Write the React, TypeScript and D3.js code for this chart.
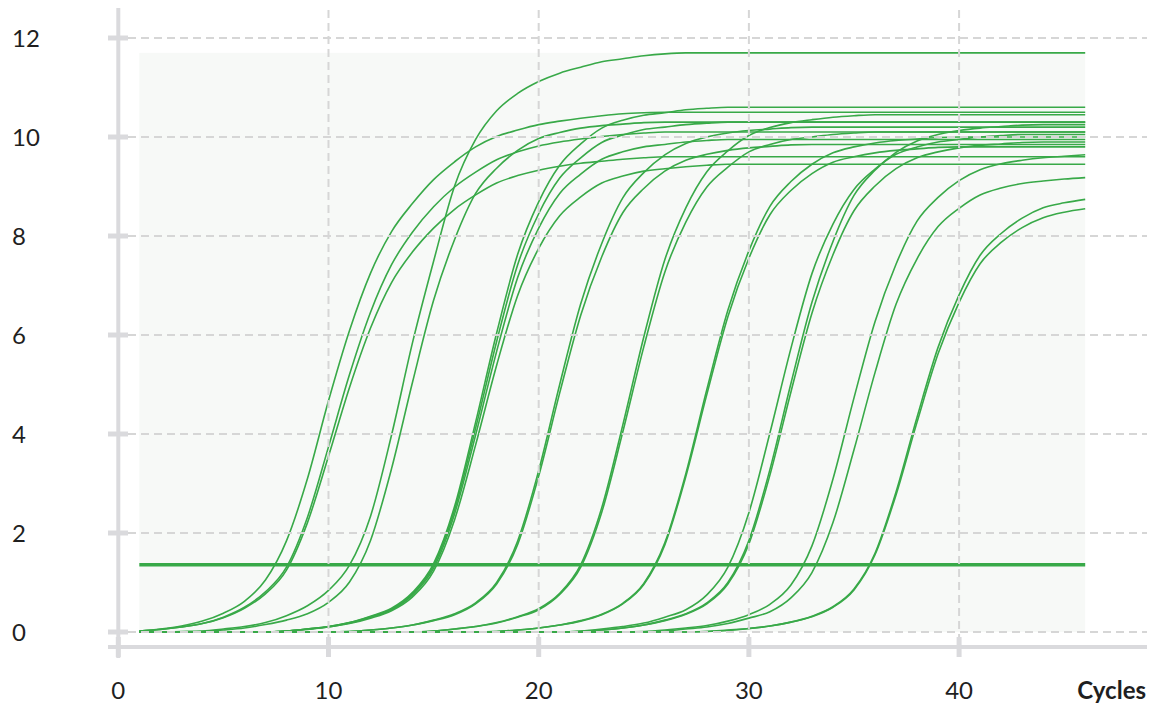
import * as d3 from "d3";

// cycle numbers (x values)
const cycles = [
  1, 2, 3, 4, 5, 6, 7, 8, 9, 10, 11, 12, 13, 14, 15, 16, 17, 18, 19, 20, 21, 22, 23,
  24, 25, 26, 27, 28, 29, 30, 31, 32, 33, 34, 35, 36, 37, 38, 39, 40, 41, 42, 43, 44, 45, 46,
];

const yTicks = [0, 2, 4, 6, 8, 10, 12];
const xTicks = [0, 10, 20, 30, 40];
const threshold = 1.36;

// fluorescence per cycle
const curveA1 = [0.02, 0.06, 0.12, 0.22, 0.38, 0.62, 1.05, 1.84, 3.1, 4.67, 6.09, 7.25, 8.09, 8.66, 9.14, 9.5, 9.8, 10.01, 10.14, 10.25, 10.32, 10.38, 10.43, 10.47, 10.49, 10.5, 10.5, 10.5, 10.5, 10.5, 10.5, 10.5, 10.5, 10.5, 10.5, 10.5, 10.5, 10.5, 10.5, 10.5, 10.5, 10.5, 10.5, 10.5, 10.5, 10.5];
const curveA2 = [0.02, 0.05, 0.1, 0.17, 0.3, 0.5, 0.81, 1.31, 2.32, 3.74, 5.2, 6.46, 7.42, 8.08, 8.59, 8.99, 9.29, 9.54, 9.7, 9.82, 9.9, 9.96, 10.01, 10.05, 10.08, 10.1, 10.1, 10.1, 10.1, 10.1, 10.1, 10.1, 10.1, 10.1, 10.1, 10.1, 10.1, 10.1, 10.1, 10.1, 10.1, 10.1, 10.1, 10.1, 10.1, 10.1];
const curveA3 = [0.02, 0.05, 0.1, 0.17, 0.29, 0.48, 0.77, 1.25, 2.21, 3.55, 4.94, 6.14, 7.06, 7.68, 8.16, 8.54, 8.83, 9.07, 9.22, 9.33, 9.41, 9.47, 9.51, 9.55, 9.58, 9.6, 9.6, 9.6, 9.6, 9.6, 9.6, 9.6, 9.6, 9.6, 9.6, 9.6, 9.6, 9.6, 9.6, 9.6, 9.6, 9.6, 9.6, 9.6, 9.6, 9.6];
const curveB1 = [0, 0, 0.01, 0.02, 0.06, 0.11, 0.19, 0.33, 0.53, 0.84, 1.35, 2.34, 3.98, 5.85, 7.49, 9.01, 9.95, 10.53, 10.88, 11.12, 11.29, 11.41, 11.52, 11.58, 11.64, 11.68, 11.7, 11.7, 11.7, 11.7, 11.7, 11.7, 11.7, 11.7, 11.7, 11.7, 11.7, 11.7, 11.7, 11.7, 11.7, 11.7, 11.7, 11.7, 11.7, 11.7];
const curveB2 = [0, 0, 0, 0.01, 0.04, 0.08, 0.15, 0.24, 0.37, 0.6, 1.01, 1.85, 3.3, 5.05, 6.7, 7.93, 8.86, 9.37, 9.73, 9.97, 10.09, 10.18, 10.23, 10.26, 10.29, 10.3, 10.3, 10.3, 10.3, 10.3, 10.3, 10.3, 10.3, 10.3, 10.3, 10.3, 10.3, 10.3, 10.3, 10.3, 10.3, 10.3, 10.3, 10.3, 10.3, 10.3];
const curveC1 = [0, 0, 0, 0, 0, 0, 0, 0.02, 0.06, 0.11, 0.19, 0.32, 0.48, 0.8, 1.38, 2.54, 4.24, 6.04, 7.63, 8.69, 9.43, 9.86, 10.18, 10.34, 10.44, 10.49, 10.55, 10.58, 10.6, 10.6, 10.6, 10.6, 10.6, 10.6, 10.6, 10.6, 10.6, 10.6, 10.6, 10.6, 10.6, 10.6, 10.6, 10.6, 10.6, 10.6];
const curveC2 = [0, 0, 0, 0, 0, 0, 0, 0.02, 0.06, 0.11, 0.19, 0.31, 0.46, 0.77, 1.34, 2.47, 4.12, 5.87, 7.42, 8.45, 9.17, 9.58, 9.89, 10.04, 10.15, 10.2, 10.25, 10.28, 10.3, 10.3, 10.3, 10.3, 10.3, 10.3, 10.3, 10.3, 10.3, 10.3, 10.3, 10.3, 10.3, 10.3, 10.3, 10.3, 10.3, 10.3];
const curveC3 = [0, 0, 0, 0, 0, 0, 0, 0.02, 0.06, 0.1, 0.18, 0.3, 0.45, 0.75, 1.29, 2.39, 3.98, 5.67, 7.16, 8.16, 8.86, 9.25, 9.55, 9.7, 9.8, 9.85, 9.9, 9.93, 9.95, 9.95, 9.95, 9.95, 9.95, 9.95, 9.95, 9.95, 9.95, 9.95, 9.95, 9.95, 9.95, 9.95, 9.95, 9.95, 9.95, 9.95];
const curveC4 = [0, 0, 0, 0, 0, 0, 0, 0.02, 0.05, 0.1, 0.17, 0.28, 0.43, 0.71, 1.23, 2.27, 3.78, 5.39, 6.8, 7.75, 8.41, 8.79, 9.07, 9.21, 9.31, 9.36, 9.4, 9.43, 9.45, 9.45, 9.45, 9.45, 9.45, 9.45, 9.45, 9.45, 9.45, 9.45, 9.45, 9.45, 9.45, 9.45, 9.45, 9.45, 9.45, 9.45];
const curveD1 = [0, 0, 0, 0, 0, 0, 0, 0, 0, 0, 0.01, 0.04, 0.08, 0.14, 0.24, 0.37, 0.59, 1.0, 1.84, 3.26, 5.0, 6.63, 7.85, 8.77, 9.28, 9.64, 9.87, 10.0, 10.08, 10.13, 10.16, 10.19, 10.2, 10.2, 10.2, 10.2, 10.2, 10.2, 10.2, 10.2, 10.2, 10.2, 10.2, 10.2, 10.2, 10.2];
const curveD2 = [0, 0, 0, 0, 0, 0, 0, 0, 0, 0, 0.01, 0.04, 0.08, 0.14, 0.23, 0.35, 0.57, 0.97, 1.77, 3.15, 4.83, 6.4, 7.58, 8.47, 8.96, 9.31, 9.53, 9.65, 9.73, 9.78, 9.81, 9.84, 9.85, 9.85, 9.85, 9.85, 9.85, 9.85, 9.85, 9.85, 9.85, 9.85, 9.85, 9.85, 9.85, 9.85];
const curveE1 = [0, 0, 0, 0, 0, 0, 0, 0, 0, 0, 0, 0, 0, 0, 0.02, 0.06, 0.11, 0.18, 0.3, 0.45, 0.76, 1.31, 2.42, 4.04, 5.76, 7.27, 8.28, 8.99, 9.39, 9.7, 9.85, 9.95, 10.0, 10.05, 10.08, 10.1, 10.1, 10.1, 10.1, 10.1, 10.1, 10.1, 10.1, 10.1, 10.1, 10.1];
const curveE2 = [0, 0, 0, 0, 0, 0, 0, 0, 0, 0, 0, 0, 0, 0, 0.02, 0.06, 0.11, 0.19, 0.31, 0.47, 0.78, 1.36, 2.51, 4.18, 5.96, 7.52, 8.57, 9.3, 9.72, 10.03, 10.19, 10.29, 10.35, 10.4, 10.43, 10.45, 10.45, 10.45, 10.45, 10.45, 10.45, 10.45, 10.45, 10.45, 10.45, 10.45];
const curveF1 = [0, 0, 0, 0, 0, 0, 0, 0, 0, 0, 0, 0, 0, 0, 0, 0, 0, 0.01, 0.04, 0.08, 0.14, 0.23, 0.36, 0.58, 0.98, 1.8, 3.2, 4.9, 6.5, 7.7, 8.6, 9.1, 9.45, 9.68, 9.8, 9.88, 9.93, 9.96, 9.99, 10.0, 10.0, 10.0, 10.0, 10.0, 10.0, 10.0];
const curveF2 = [0, 0, 0, 0, 0, 0, 0, 0, 0, 0, 0, 0, 0, 0, 0, 0, 0, 0.01, 0.04, 0.08, 0.14, 0.22, 0.35, 0.57, 0.96, 1.76, 3.14, 4.8, 6.37, 7.55, 8.43, 8.92, 9.26, 9.49, 9.6, 9.68, 9.73, 9.76, 9.79, 9.8, 9.8, 9.8, 9.8, 9.8, 9.8, 9.8];
const curveG1 = [0, 0, 0, 0, 0, 0, 0, 0, 0, 0, 0, 0, 0, 0, 0, 0, 0, 0, 0, 0, 0, 0.02, 0.06, 0.11, 0.18, 0.3, 0.45, 0.75, 1.31, 2.41, 4.02, 5.73, 7.24, 8.24, 8.94, 9.35, 9.65, 9.8, 9.9, 9.95, 10.0, 10.03, 10.05, 10.05, 10.05, 10.05];
const curveG2 = [0, 0, 0, 0, 0, 0, 0, 0, 0, 0, 0, 0, 0, 0, 0, 0, 0, 0, 0, 0, 0, 0.01, 0.04, 0.08, 0.14, 0.24, 0.37, 0.59, 1.0, 1.85, 3.28, 5.02, 6.66, 7.89, 8.82, 9.33, 9.69, 9.92, 10.05, 10.13, 10.18, 10.21, 10.24, 10.25, 10.25, 10.25];
const curveG3 = [0, 0, 0, 0, 0, 0, 0, 0, 0, 0, 0, 0, 0, 0, 0, 0, 0, 0, 0, 0, 0, 0.01, 0.04, 0.08, 0.14, 0.23, 0.36, 0.57, 0.97, 1.78, 3.17, 4.85, 6.44, 7.62, 8.51, 9.01, 9.36, 9.58, 9.7, 9.78, 9.83, 9.86, 9.89, 9.9, 9.9, 9.9];
const curveH1 = [0, 0, 0, 0, 0, 0, 0, 0, 0, 0, 0, 0, 0, 0, 0, 0, 0, 0, 0, 0, 0, 0, 0, 0, 0.01, 0.04, 0.08, 0.13, 0.22, 0.35, 0.56, 0.95, 1.74, 3.09, 4.73, 6.27, 7.43, 8.3, 8.78, 9.12, 9.34, 9.46, 9.53, 9.58, 9.61, 9.64];
const curveH2 = [0, 0, 0, 0, 0, 0, 0, 0, 0, 0, 0, 0, 0, 0, 0, 0, 0, 0, 0, 0, 0, 0, 0, 0, 0, 0.02, 0.06, 0.1, 0.17, 0.28, 0.41, 0.69, 1.2, 2.21, 3.68, 5.24, 6.62, 7.54, 8.19, 8.56, 8.83, 8.97, 9.06, 9.11, 9.15, 9.18];
const curveI1 = [0, 0, 0, 0, 0, 0, 0, 0, 0, 0, 0, 0, 0, 0, 0, 0, 0, 0, 0, 0, 0, 0, 0, 0, 0, 0, 0, 0.01, 0.04, 0.07, 0.12, 0.2, 0.32, 0.51, 0.87, 1.59, 2.83, 4.34, 5.75, 6.81, 7.61, 8.05, 8.36, 8.57, 8.67, 8.74];
const curveI2 = [0, 0, 0, 0, 0, 0, 0, 0, 0, 0, 0, 0, 0, 0, 0, 0, 0, 0, 0, 0, 0, 0, 0, 0, 0, 0, 0, 0.01, 0.03, 0.07, 0.12, 0.2, 0.31, 0.5, 0.85, 1.56, 2.77, 4.24, 5.62, 6.66, 7.44, 7.87, 8.17, 8.37, 8.48, 8.55];

const curves = [
  curveA1, curveA2, curveA3, curveB1, curveB2,
  curveC1, curveC2, curveC3, curveC4, curveD1, curveD2,
  curveE1, curveE2, curveF1, curveF2, curveG1, curveG2, curveG3,
  curveH1, curveH2, curveI1, curveI2,
];

export default function App() {
  const width = 1157;
  const height = 709;

  const green = "#38a948";
  const axisGrey = "#dadadd";
  const gridGrey = "#d6d6d6";
  const font = "Lato, 'Open Sans', sans-serif";

  // scales
  const x = d3.scaleLinear().domain([0, 46]).range([118.3, 1085.2]);
  const y = d3.scaleLinear().domain([0, 12]).range([632, 38]);

  const line = d3
    .line<number>()
    .x((_, i) => x(cycles[i]))
    .y((d) => y(d))
    .curve(d3.curveMonotoneX);

  const maxVal = d3.max(curves.flat()) as number;
  const axisX = x(0);
  const axisY = 647;

  return (
    <svg
      width={width}
      height={height}
      style={{ position: "absolute", left: 0, top: 0, background: "#fff" }}
    >
      {/* data area background */}
      <rect
        x={x(cycles[0])}
        y={y(maxVal)}
        width={x(cycles[cycles.length - 1]) - x(cycles[0])}
        height={y(0) - y(maxVal)}
        fill="#f7f9f7"
      />

      {/* amplification curves */}
      {curves.map((c, i) => (
        <path key={i} d={line(c) || ""} fill="none" stroke={green} strokeWidth={1.6} />
      ))}

      {/* threshold */}
      <line
        x1={x(cycles[0])}
        x2={x(cycles[cycles.length - 1])}
        y1={y(threshold)}
        y2={y(threshold)}
        stroke={green}
        strokeWidth={3.5}
      />

      {/* grid */}
      {yTicks.map((t) => (
        <line
          key={"gy" + t}
          x1={128}
          x2={1147}
          y1={y(t)}
          y2={y(t)}
          stroke={gridGrey}
          strokeWidth={2}
          strokeDasharray="8,5"
        />
      ))}
      {xTicks.slice(1).map((t) => (
        <line
          key={"gx" + t}
          x1={x(t)}
          x2={x(t)}
          y1={10}
          y2={axisY}
          stroke={gridGrey}
          strokeWidth={2}
          strokeDasharray="8,5"
        />
      ))}

      {/* axes */}
      <line x1={axisX} x2={axisX} y1={8} y2={658} stroke={axisGrey} strokeWidth={4} />
      <line x1={108} x2={1147} y1={axisY} y2={axisY} stroke={axisGrey} strokeWidth={4} />
      {yTicks.map((t) => (
        <line key={"ty" + t} x1={108} x2={128} y1={y(t)} y2={y(t)} stroke={axisGrey} strokeWidth={5} />
      ))}
      {xTicks.map((t) => (
        <line key={"tx" + t} x1={x(t)} x2={x(t)} y1={637} y2={657} stroke={axisGrey} strokeWidth={5} />
      ))}

      {/* tick labels */}
      {yTicks.map((t) => (
        <text key={"ly" + t} x={12} y={y(t) + 9} fontSize={24} fill="#1f1f1f" fontFamily={font}>
          {t}
        </text>
      ))}
      {xTicks.map((t) => (
        <text
          key={"lx" + t}
          x={x(t)}
          y={699}
          textAnchor="middle"
          fontSize={24}
          fill="#1f1f1f"
          fontFamily={font}
        >
          {t}
        </text>
      ))}
      <text x={1146} y={699} textAnchor="end" fontSize={24} fontWeight={700} fill="#1f1f1f" fontFamily={font}>
        Cycles
      </text>
    </svg>
  );
}
